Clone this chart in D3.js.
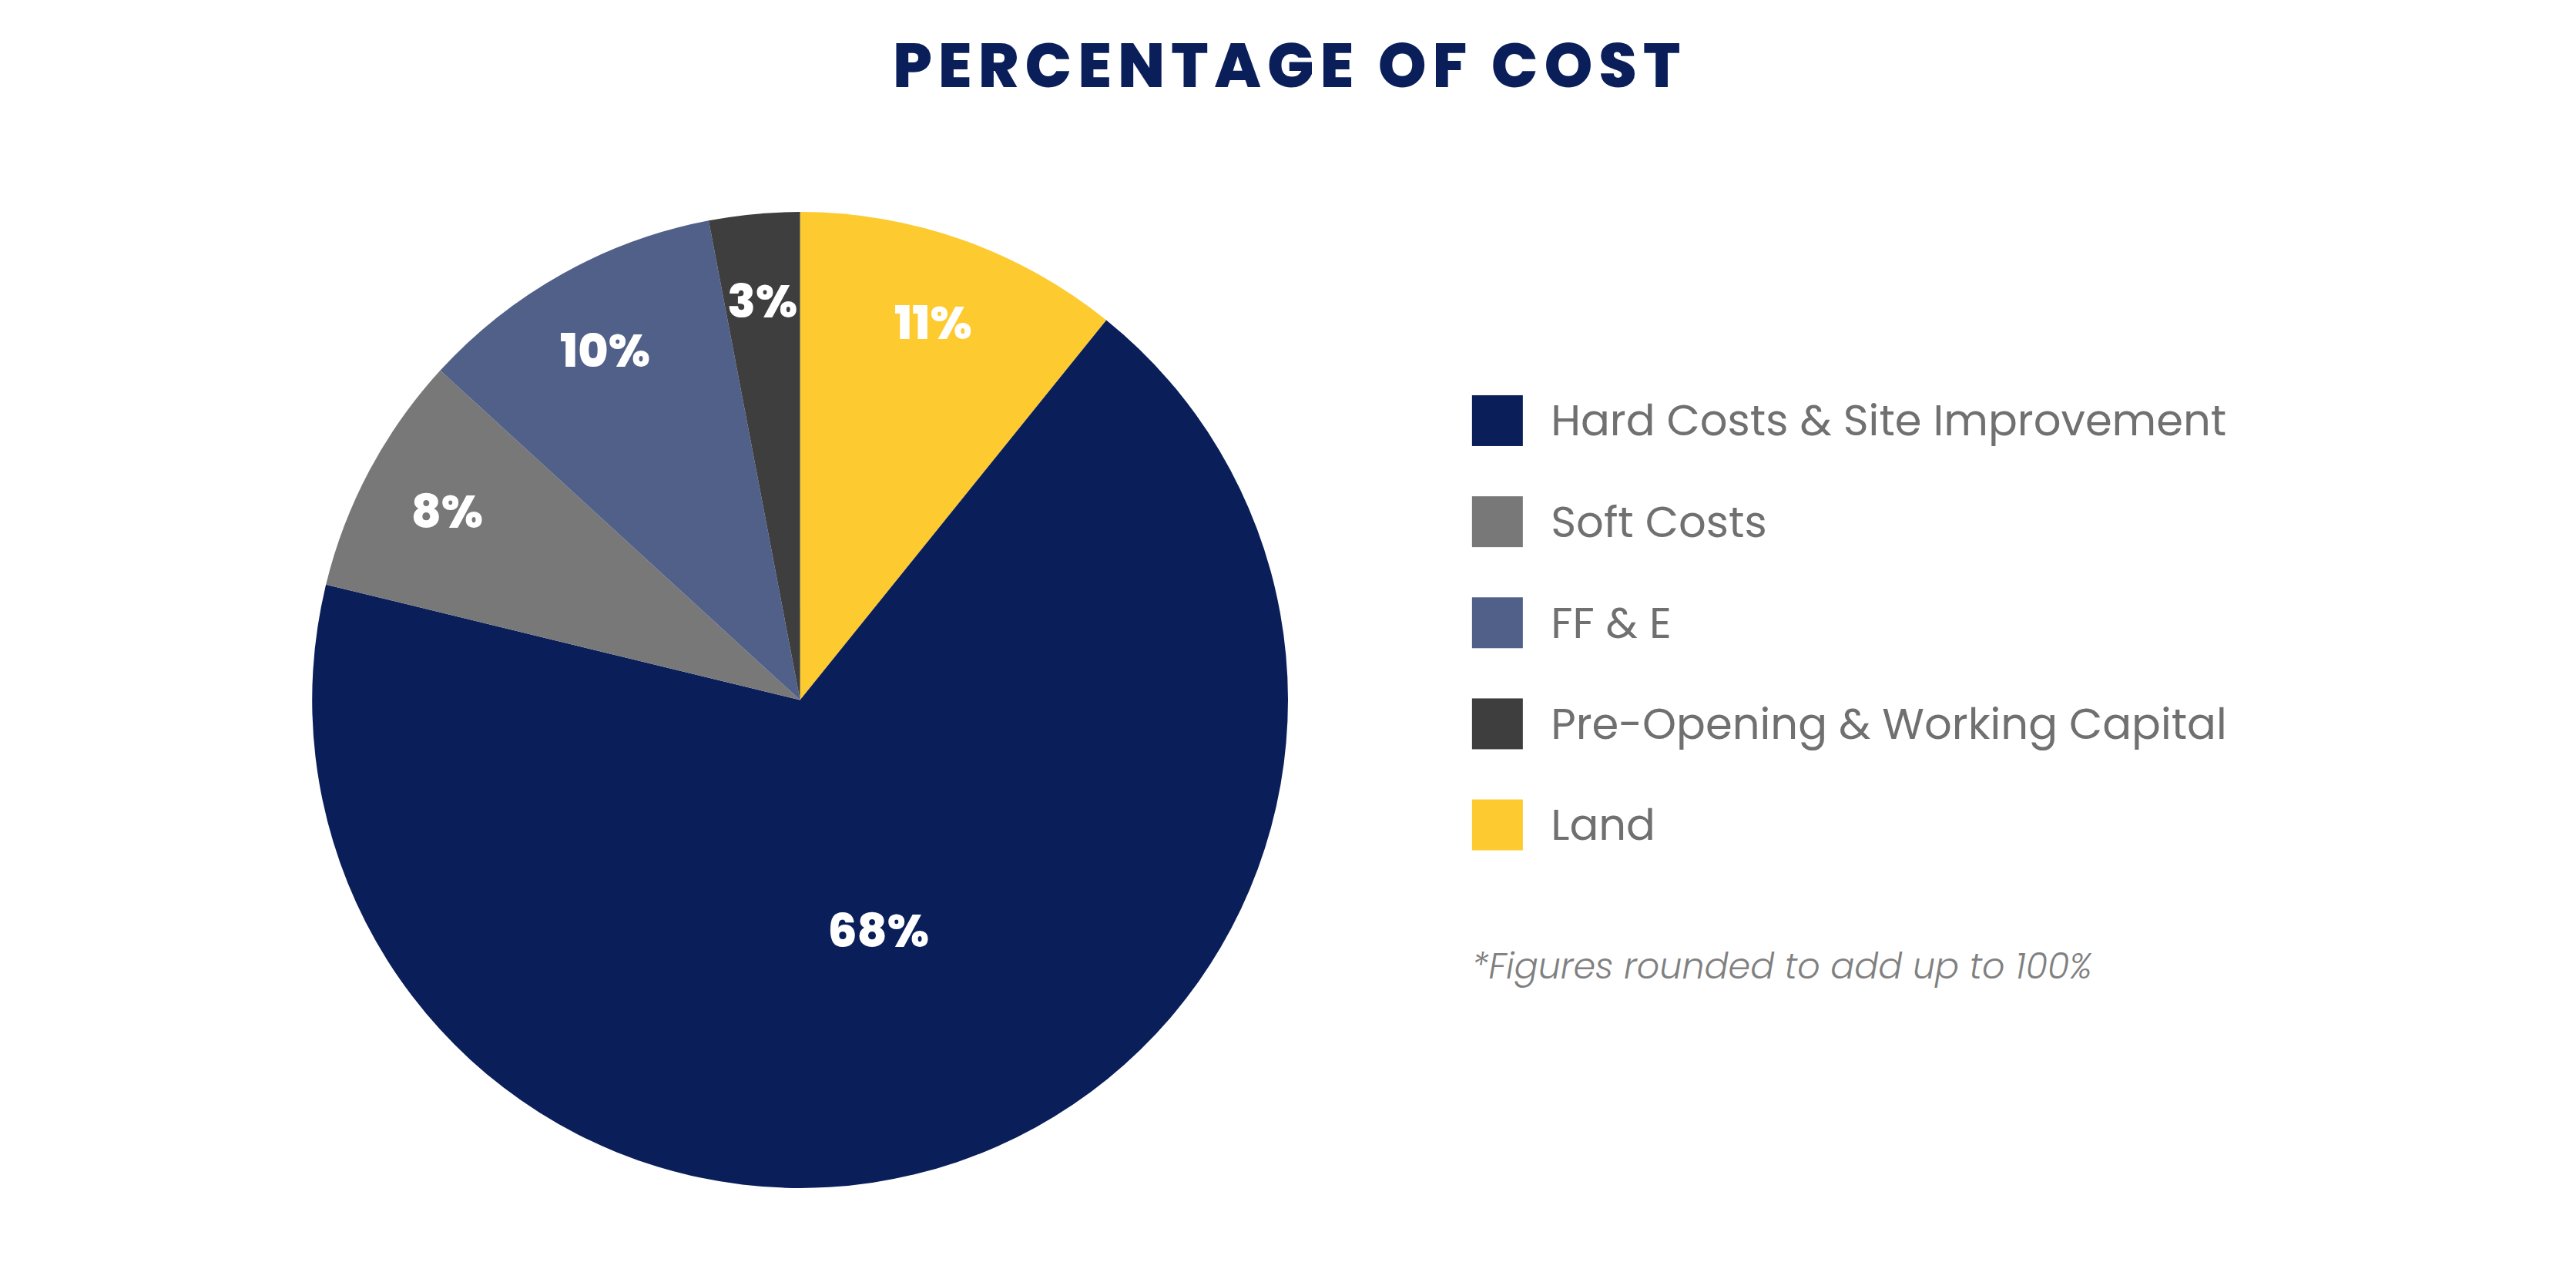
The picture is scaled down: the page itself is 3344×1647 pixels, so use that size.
<!DOCTYPE html>
<html><head><meta charset="utf-8">
<script src="https://cdn.jsdelivr.net/npm/d3@7"></script>
<style>body{margin:0;background:#fff}</style></head>
<body><svg id="c" width="3344" height="1647"></svg>
<script>
const categories = ["Land","Hard Costs & Site Improvement","Soft Costs","FF & E","Pre-Opening & Working Capital"];
const values = [10.8, 68, 8, 10.2, 3];
const labels = ["11%","68%","8%","10%","3%"];
const colors = ["#fdca30","#0a1f5a","#787878","#506089","#3e3e3e"];
const legendOrder = ["Hard Costs & Site Improvement","Soft Costs","FF & E","Pre-Opening & Working Capital","Land"];

const svg = d3.select("#c");
const S = 3344/1568;
svg.append("text").attr("x",785*S).attr("y",40*S).attr("text-anchor","middle").attr("dominant-baseline","central")
  .attr("font-family","Poppins, 'Open Sans', sans-serif").attr("font-weight",800).attr("font-size",80)
  .attr("letter-spacing",8).attr("fill","#0a1f5a").text("PERCENTAGE OF COST");

const cx=487*S, cy=426*S, r=297*S;
const g = svg.append("g").attr("transform",`translate(${cx},${cy})`);
const pie = d3.pie().sort(null).value(d=>d)(values);
const arc = d3.arc().innerRadius(0).outerRadius(r);
g.selectAll("path").data(pie).join("path").attr("d",arc).attr("fill",(d,i)=>colors[i]);
g.selectAll("text").data(pie).join("text")
  .attr("transform",(d,i)=>{const rr = i===1 ? r*0.5 : r*0.82; return `translate(${d3.arc().innerRadius(rr).outerRadius(rr).centroid(d)})`;})
  .attr("text-anchor","middle").attr("dominant-baseline","central")
  .attr("font-family","Poppins, 'Open Sans', sans-serif").attr("font-weight",800).attr("font-size",60)
  .attr("fill","#fff").text((d,i)=>labels[i]);

const ly = d3.scalePoint().domain(legendOrder).range([256*S,502*S]);
const lg = svg.append("g");
legendOrder.forEach(c=>{
  const i = categories.indexOf(c);
  lg.append("rect").attr("x",896*S).attr("y",ly(c)-33).attr("width",66).attr("height",66).attr("fill",colors[i]);
  lg.append("text").attr("x",944*S).attr("y",ly(c)).attr("dominant-baseline","central")
    .attr("font-family","Poppins, 'Open Sans', sans-serif").attr("font-size",56).attr("fill","#707070").text(c);
});
svg.append("text").attr("x",896*S).attr("y",588*S).attr("dominant-baseline","central")
  .attr("font-family","Poppins, 'Open Sans', sans-serif").attr("font-style","italic").attr("font-weight",300)
  .attr("font-size",46).attr("fill","#808080").text("*Figures rounded to add up to 100%");
</script></body></html>
